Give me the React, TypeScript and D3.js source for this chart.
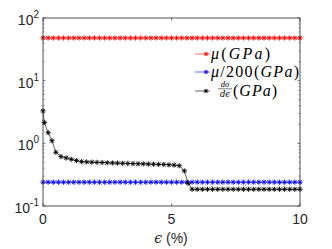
import React from "react";
import * as d3 from "d3";

// strain values (%) shared by the two flat series
const strain = [
  0, 0.2, 0.4, 0.6, 0.8, 1, 1.2, 1.4, 1.6, 1.8, 2, 2.2, 2.4, 2.6, 2.8, 3, 3.2,
  3.4, 3.6, 3.8, 4, 4.2, 4.4, 4.6, 4.8, 5, 5.2, 5.4, 5.6, 5.8, 6, 6.2, 6.4, 6.6,
  6.8, 7, 7.2, 7.4, 7.6, 7.8, 8, 8.2, 8.4, 8.6, 8.8, 9, 9.2, 9.4, 9.6, 9.8, 10,
];
const muValue = 48; // GPa
const muScaledValue = 0.24; // mu / 200

// tangent modulus dsigma/deps
const tangentStrain = [
  0, 0.05, 0.2, 0.35, 0.5, 0.7, 0.9, 1.1, 1.3, 1.5, 1.7, 1.9, 2.1, 2.3, 2.5,
  2.7, 2.9, 3.1, 3.3, 3.5, 3.7, 3.9, 4.1, 4.3, 4.5, 4.7, 4.9, 5.1, 5.3, 5.5,
  5.65, 5.8, 6, 6.2, 6.4, 6.6, 6.8, 7, 7.2, 7.4, 7.6, 7.8, 8, 8.2, 8.4, 8.6,
  8.8, 9, 9.2, 9.4, 9.6, 9.8, 10,
];
const tangentValue = [
  3.3, 2.15, 1.48, 1.1, 0.72, 0.615, 0.585, 0.557, 0.53, 0.51, 0.505, 0.5,
  0.497, 0.494, 0.49, 0.487, 0.484, 0.48, 0.478, 0.475, 0.472, 0.47, 0.467,
  0.465, 0.462, 0.46, 0.455, 0.45, 0.44, 0.363, 0.231, 0.185, 0.185, 0.185,
  0.185, 0.185, 0.185, 0.185, 0.185, 0.185, 0.185, 0.185, 0.185, 0.185, 0.185,
  0.185, 0.185, 0.185, 0.185, 0.185, 0.185, 0.185, 0.185,
];

const xTicks = [0, 5, 10];
const yDecades = [-1, 0, 1, 2];

const width = 332;
const height = 249;
const margin = { top: 18, right: 32, bottom: 43, left: 43 };
const axisColor = "#262626";
const tickFont = "'Liberation Sans', Arial, sans-serif";
const mathFont = "'Liberation Serif', 'DejaVu Serif', serif";

function star(x: number, y: number, r: number) {
  const d = r * 0.72;
  return (
    `M${x - r},${y}h${2 * r}M${x},${y - r}v${2 * r}` +
    `M${x - d},${y - d}l${2 * d},${2 * d}M${x - d},${y + d}l${2 * d},${-2 * d}`
  );
}

function Series({ xs, ys, color, x, y }: any) {
  const pts = xs.map((v: number, i: number) => [x(v), y(ys[i])]);
  const line = d3.line();
  return (
    <g>
      <path d={line(pts) || ""} fill="none" stroke={color} strokeWidth={0.6} />
      <path
        d={pts.map((p: number[]) => star(p[0], p[1], 2.6)).join("")}
        fill="none"
        stroke={color}
        strokeWidth={0.9}
      />
    </g>
  );
}

export default function App() {
  const x = d3
    .scaleLinear()
    .domain([0, 10])
    .range([margin.left, width - margin.right]);
  const y = d3
    .scaleLog()
    .domain([0.1, 100])
    .range([height - margin.bottom, margin.top]);
  const x0 = margin.left;
  const x1 = width - margin.right;
  const y0 = height - margin.bottom;
  const y1 = margin.top;

  const minor: number[] = [];
  [0.1, 1, 10].forEach((b) => {
    for (let k = 2; k <= 9; k++) minor.push(b * k);
  });

  const legend = [
    { color: "#ff0000", cy: 54 },
    { color: "#0000ff", cy: 72 },
    { color: "#000000", cy: 91 },
  ];

  return (
    <svg
      width={width}
      height={height}
      style={{ position: "absolute", left: 0, top: 0, background: "#fff" }}
    >
      <rect x={0} y={0} width={width} height={height} fill="#fff" />

      <Series
        xs={strain}
        ys={strain.map(() => muValue)}
        color="#ff0000"
        x={x}
        y={y}
      />
      <Series
        xs={strain}
        ys={strain.map(() => muScaledValue)}
        color="#0000ff"
        x={x}
        y={y}
      />
      <Series xs={tangentStrain} ys={tangentValue} color="#000000" x={x} y={y} />

      {/* axes box */}
      <rect
        x={x0}
        y={y1}
        width={x1 - x0}
        height={y0 - y1}
        fill="none"
        stroke={axisColor}
        strokeWidth={0.8}
      />

      {/* x ticks */}
      {xTicks.map((t) => (
        <g key={"xt" + t}>
          <line x1={x(t)} x2={x(t)} y1={y0} y2={y0 - 2.6} stroke={axisColor} strokeWidth={0.6} />
          <line x1={x(t)} x2={x(t)} y1={y1} y2={y1 + 2.6} stroke={axisColor} strokeWidth={0.6} />
          <text
            x={x(t)}
            y={224}
            textAnchor="middle"
            fontFamily={tickFont}
            fontSize={14}
            fill={axisColor}
          >
            {t}
          </text>
        </g>
      ))}

      {/* y ticks */}
      {yDecades.map((e) => (
        <g key={"yt" + e}>
          <line x1={x0} x2={x0 + 2.6} y1={y(10 ** e)} y2={y(10 ** e)} stroke={axisColor} strokeWidth={0.6} />
          <line x1={x1} x2={x1 - 2.6} y1={y(10 ** e)} y2={y(10 ** e)} stroke={axisColor} strokeWidth={0.6} />
          <text
            x={39}
            y={y(10 ** e) + 7}
            textAnchor="end"
            fontFamily={tickFont}
            fontSize={14}
            fill={axisColor}
          >
            10
            <tspan dy={-7} fontSize={10}>
              {e}
            </tspan>
          </text>
        </g>
      ))}
      {minor.map((m) => (
        <g key={"m" + m}>
          <line x1={x0} x2={x0 + 1.5} y1={y(m)} y2={y(m)} stroke={axisColor} strokeWidth={0.5} />
          <line x1={x1} x2={x1 - 1.5} y1={y(m)} y2={y(m)} stroke={axisColor} strokeWidth={0.5} />
        </g>
      ))}

      {/* x label */}
      <text
        x={171}
        y={243}
        textAnchor="middle"
        fontFamily={tickFont}
        fontSize={14}
        fill={axisColor}
      >
        <tspan fontFamily="'DejaVu Serif', serif" fontStyle="italic">ϵ</tspan> (%)
      </text>

      {/* legend */}
      {legend.map((l) => (
        <g key={l.color}>
          <line x1={195} x2={210} y1={l.cy} y2={l.cy} stroke={l.color} strokeWidth={0.6} />
          <path d={star(206, l.cy, 2.2)} stroke={l.color} strokeWidth={0.9} fill="none" />
        </g>
      ))}
      <text
        x={211}
        y={59}
        fontFamily={mathFont}
        fontSize={16}
        fill="#000"
        textLength={59}
        lengthAdjust="spacing"
      >
        <tspan fontStyle="italic">μ</tspan>(<tspan fontStyle="italic">GPa</tspan>)
      </text>
      <text
        x={211}
        y={77}
        fontFamily={mathFont}
        fontSize={16}
        fill="#000"
        textLength={88}
        lengthAdjust="spacing"
      >
        <tspan fontStyle="italic">μ</tspan>/200(<tspan fontStyle="italic">GPa</tspan>)
      </text>
      <g fontFamily={mathFont} fill="#000">
        <text x={225} y={86.5} fontSize={8.5} textAnchor="middle" fontStyle="italic">
          dσ
        </text>
        <line x1={218} x2={232} y1={88.8} y2={88.8} stroke="#000" strokeWidth={0.5} />
        <text
          x={225}
          y={96.5}
          fontSize={8.5}
          textAnchor="middle"
          fontStyle="italic"
          fontFamily="'DejaVu Serif', serif"
        >
          dϵ
        </text>
        <text x={233} y={96} fontSize={16} textLength={44} lengthAdjust="spacing">
          (<tspan fontStyle="italic">GPa</tspan>)
        </text>
      </g>
    </svg>
  );
}
